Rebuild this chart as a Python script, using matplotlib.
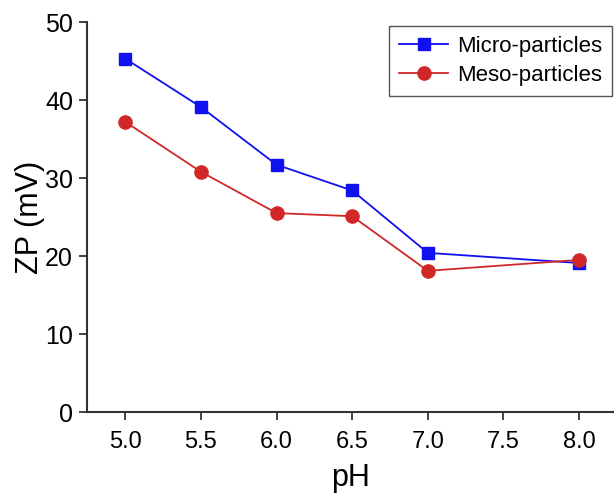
import matplotlib
matplotlib.use("Agg")
import matplotlib.pyplot as plt

ph = [5.0, 5.5, 6.0, 6.5, 7.0, 8.0]
micro = [45.3, 39.1, 31.7, 28.4, 20.4, 19.1]
meso = [37.2, 30.8, 25.5, 25.1, 18.1, 19.5]
x_ticks = [5.0, 5.5, 6.0, 6.5, 7.0, 7.5, 8.0]
y_ticks = [0, 10, 20, 30, 40, 50]

plt.rcParams["font.family"] = ["Liberation Sans", "DejaVu Sans"]

fig = plt.figure(figsize=(6.14, 4.94), dpi=100)
ax = fig.add_axes([87 / 614, 1 - 412 / 494, 1 - 87 / 614, (412 - 22) / 494])

ax.plot(ph, micro, color="#1010f0", marker="s", markersize=9, lw=1.3,
        label="Micro-particles", clip_on=False, zorder=3)
ax.plot(ph, meso, color="#d02828", marker="o", markersize=9.5, lw=1.3,
        label="Meso-particles", clip_on=False, zorder=3)

ax.set_xlim(4.747, 8.231)
ax.set_ylim(0, 50)
ax.set_xticks(x_ticks)
ax.set_xticklabels([f"{v:.1f}" for v in x_ticks])
ax.set_yticks(y_ticks)

for s in ["top", "right"]:
    ax.spines[s].set_visible(False)
for s in ["left", "bottom"]:
    ax.spines[s].set_linewidth(1.5)
    ax.spines[s].set_color("#333333")

ax.tick_params(axis="both", direction="out", length=6, width=1.3, color="#333333")
ax.tick_params(axis="y", labelsize=18, pad=4)
ax.tick_params(axis="x", labelsize=17, pad=8)

ax.set_xlabel("pH", fontsize=22, labelpad=7)
ax.set_ylabel("ZP (mV)", fontsize=22, labelpad=0)

leg = ax.legend(loc="upper right", bbox_to_anchor=(612 / 614, 1 - 26 / 494),
                bbox_transform=fig.transFigure, borderaxespad=0, fontsize=16,
                fancybox=False, edgecolor="#555555", framealpha=1,
                handlelength=2.2, handletextpad=0.4, borderpad=0.45,
                labelspacing=0.35)
leg.get_frame().set_linewidth(1.0)

fig.savefig("out.png", dpi=100)
